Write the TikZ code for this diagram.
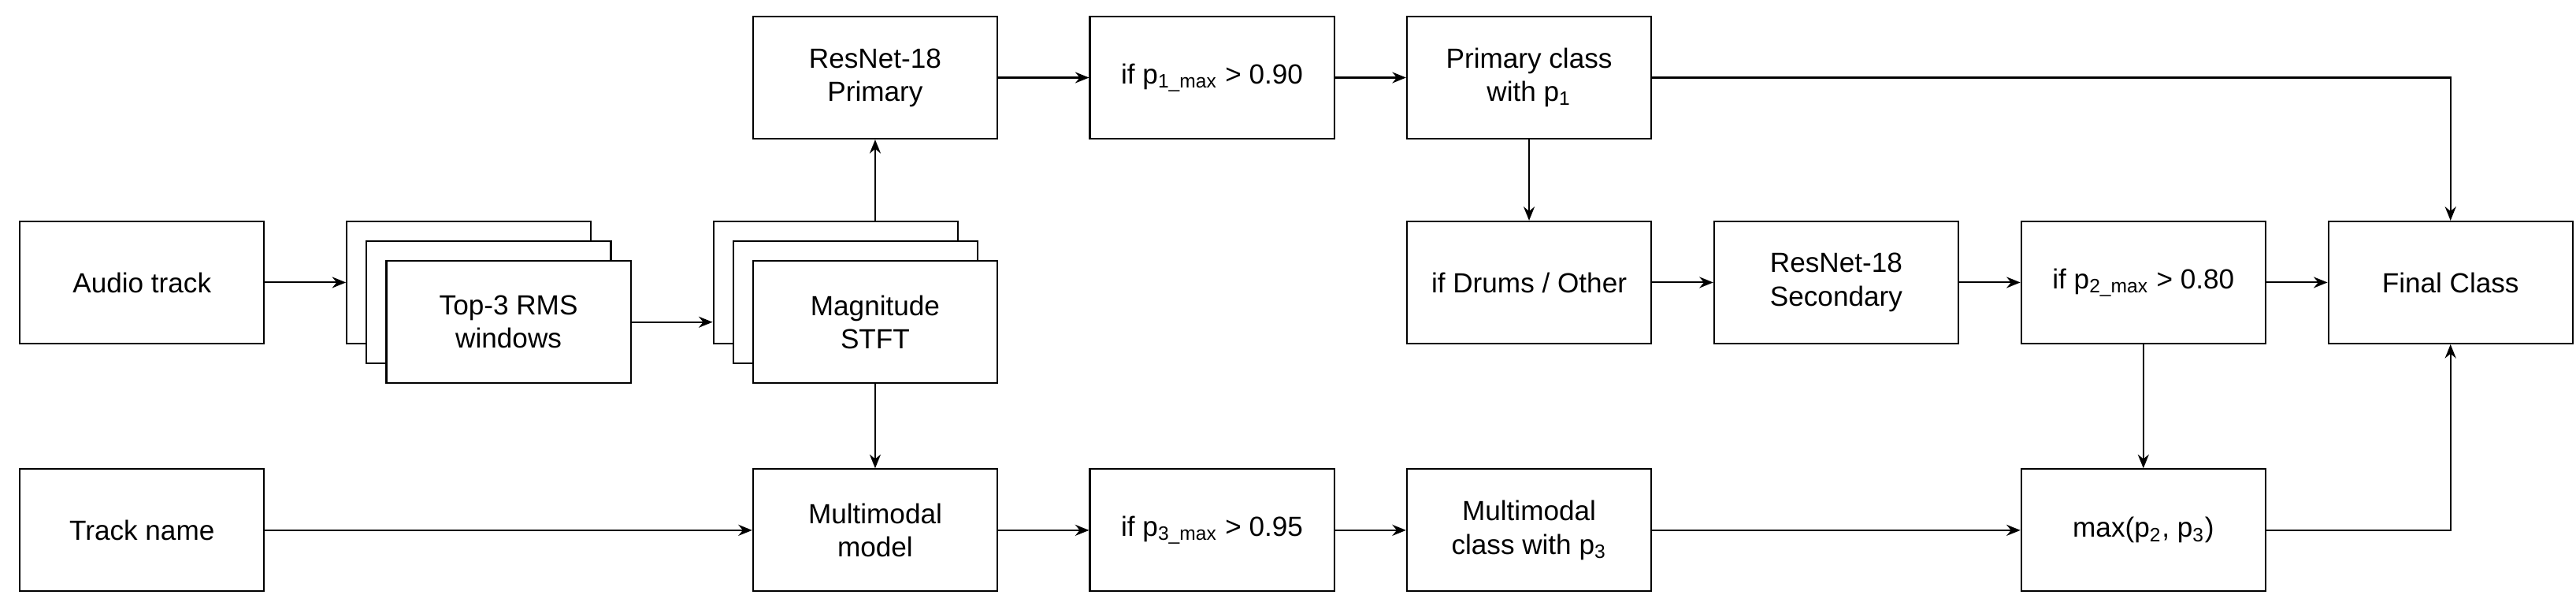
\documentclass[tikz,border=0pt]{standalone}
\usepackage{fontspec}
\setmainfont{Liberation Sans}
\usetikzlibrary{arrows.meta}
\begin{document}
\begin{tikzpicture}[x=0.02096cm,y=-0.02096cm,
  box/.style={draw,line width=0.6pt,fill=white,minimum width=3.102cm,minimum height=1.551cm,inner sep=0pt,align=center,font=\fontsize{10}{12}\selectfont},
  arr/.style={draw,line width=0.6pt,-{Stealth[length=5pt,width=4pt]}}]
\useasboundingbox (0,0) rectangle (1560,366.4);
\node[box] (audio) at (86,171) {Audio track};
\node[box] (rms1) at (284,171) {};
\node[box] (rms2) at (296,183) {};
\node[box] (rms) at (308,195) {Top-3 RMS\\windows};
\node[box] (st1) at (506,171) {};
\node[box] (st2) at (518,183) {};
\node[box] (stft) at (530,195) {Magnitude\\STFT};
\node[box] (res1) at (530,47) {ResNet-18\\Primary};
\node[box] (if1) at (734,47) {if p\textsubscript{1\_max} > 0.90};
\node[box] (pc) at (926,47) {Primary class\\with p\textsubscript{1}};
\node[box] (drums) at (926,171) {if Drums / Other};
\node[box] (res2) at (1112,171) {ResNet-18\\Secondary};
\node[box] (if2) at (1298,171) {if p\textsubscript{2\_max} > 0.80};
\node[box] (final) at (1484,171) {Final Class};
\node[box] (track) at (86,321) {Track name};
\node[box] (mm) at (530,321) {Multimodal\\model};
\node[box] (if3) at (734,321) {if p\textsubscript{3\_max} > 0.95};
\node[box] (mc) at (926,321) {Multimodal\\class with p\textsubscript{3}};
\node[box] (max) at (1298,321) {max(p\textsubscript{2}, p\textsubscript{3})};
\draw[arr] (audio) -- (rms1);
\draw[arr] (rms.east) -- (rms.east -| st1.west);
\draw[arr] (st1.north -| stft) -- (res1);
\draw[arr] (stft) -- (mm);
\draw[arr] (res1) -- (if1);
\draw[arr] (if1) -- (pc);
\draw[arr] (pc.east) -| (final.north);
\draw[arr] (pc) -- (drums);
\draw[arr] (drums) -- (res2);
\draw[arr] (res2) -- (if2);
\draw[arr] (if2) -- (final);
\draw[arr] (if2) -- (max);
\draw[arr] (max.east) -| (final.south);
\draw[arr] (track) -- (mm);
\draw[arr] (mm) -- (if3);
\draw[arr] (if3) -- (mc);
\draw[arr] (mc) -- (max);
\end{tikzpicture}
\end{document}
